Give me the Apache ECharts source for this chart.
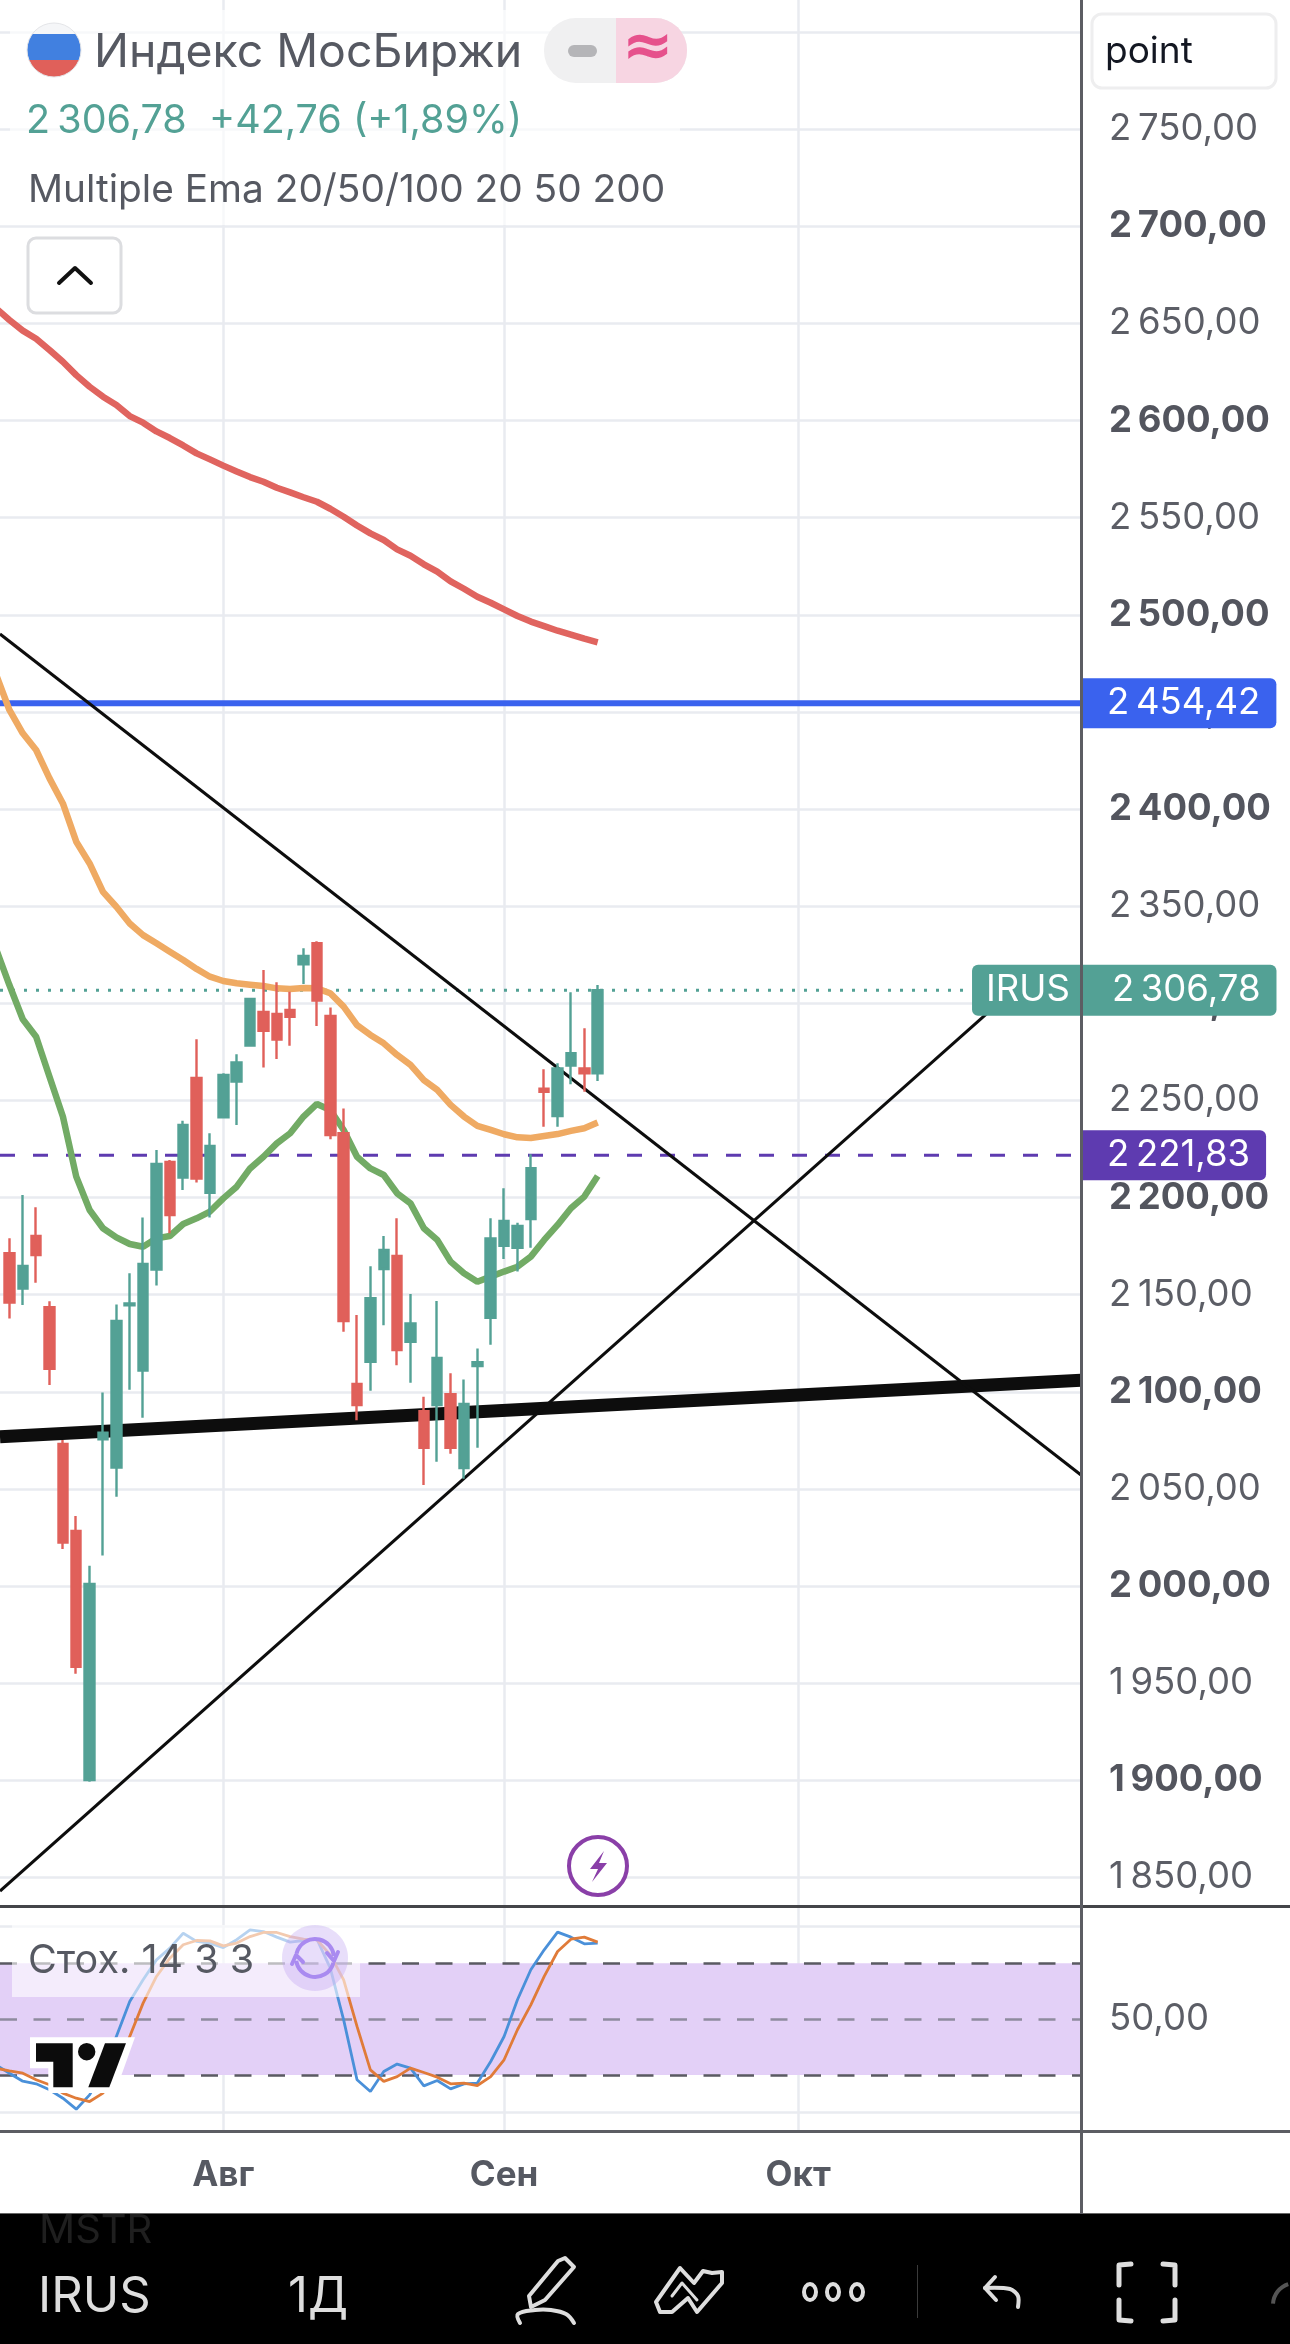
<!DOCTYPE html>
<html lang="ru">
<head>
<meta charset="utf-8">
<style>html,body{margin:0;padding:0;background:#fff}#c{width:1290px;height:2344px}</style>
<script src="https://cdn.jsdelivr.net/npm/echarts@6/dist/echarts.min.js"></script>
</head>
<body>
<div id="c"></div>
<script>
// ---- data ----
const candleOpen  = [2171.3,2153.1,2180.2,2143.5,2073.2,2028.4,1900.2,2075.6,2061.0,2144.5,2110.9,2162.9,2218.3,2210.3,2261.6,2202.5,2241.3,2259.7,2278.2,2295.5,2294.5,2296.6,2320.1,2330.9,2293.5,2233.1,2104.0,2115.5,2163.2,2169.9,2125.8,2090.0,2093.2,2098.8,2060.7,2113.2,2138.1,2175.2,2174.2,2189.0,2256.0,2242.0,2268.0,2266.5,2264.02];
const candleClose = [2145.9,2164.8,2170.4,2111.8,2022.4,1958.4,2001.1,2079.0,2136.5,2145.5,2165.8,2217.3,2191.0,2237.4,2209.8,2226.6,2263.1,2269.6,2302.2,2285.9,2281.3,2293.0,2324.4,2301.4,2232.2,2136.4,2093.2,2148.2,2173.0,2121.5,2135.2,2071.2,2117.4,2071.2,2093.7,2115.3,2179.0,2188.0,2185.4,2215.1,2254.5,2266.5,2274.3,2264.0,2306.78];
const candleLow   = [2137.8,2144.7,2156.2,2103.5,2019.1,1954.9,1899.3,2015.7,2046.0,2101.0,2086.7,2154.7,2181.6,2203.9,2207.7,2189.7,2240.8,2237.4,2278.0,2266.9,2271.3,2278.2,2310.0,2288.3,2230.0,2130.9,2085.4,2100.5,2134.3,2113.7,2104.7,2052.0,2064.0,2068.1,2055.2,2071.2,2124.2,2168.4,2161.9,2174.2,2236.5,2236.5,2258.3,2254.5,2260.0];
const candleHigh  = [2179.0,2201.3,2195.0,2146.6,2075.2,2036.1,2010.4,2099.6,2145.0,2161.0,2189.8,2224.5,2219.4,2239.6,2281.5,2233.1,2264.0,2273.8,2302.7,2317.2,2310.8,2306.0,2328.3,2331.9,2297.9,2245.9,2139.5,2164.7,2180.2,2189.3,2150.3,2097.4,2146.7,2109.5,2106.4,2122.3,2189.3,2204.8,2187.0,2222.3,2266.0,2269.1,2305.7,2287.1,2309.4];
// moving averages: first value belongs to the bar just left of the window
const ema20  = [2328,2309.4,2291.8,2282.8,2262.2,2241.7,2210.8,2193.6,2184.2,2179.5,2176.1,2174.7,2179,2180.2,2186.4,2189.3,2192.8,2199.6,2205.6,2215,2221,2227.9,2233.1,2241.7,2248.2,2245.1,2234.8,2221,2215,2211.6,2202.2,2197,2184.2,2178.2,2167,2161,2156.7,2159.3,2161.9,2164.4,2169.6,2178.2,2185.9,2194.5,2200.5,2211.1];
const ema50  = [2469.3,2451,2439,2430.4,2415.8,2402.9,2383.2,2372,2357.4,2349.7,2341.1,2335.1,2330.9,2326.6,2322.3,2317.7,2313.7,2311.5,2310.3,2309.6,2308.9,2307.7,2307.4,2307.9,2307.7,2305.2,2298.3,2288.8,2283.7,2279.4,2273.4,2268.3,2260.5,2255.4,2247.7,2241.7,2236.9,2234.8,2232.6,2231,2230.7,2231.7,2232.7,2234.3,2235.7,2238.6];
const ema200 = [2657.8,2651.8,2646.3,2642.1,2636.3,2630.3,2623.4,2617.4,2612.3,2608,2602.3,2598.9,2594.4,2591,2587.2,2583.1,2580,2576.8,2573.8,2570.9,2568.5,2565.4,2563,2560.5,2558.2,2554.6,2550.5,2546,2541.9,2538.5,2533.7,2530.4,2526,2522.2,2517.2,2513.4,2509.3,2506.2,2502.8,2499.4,2496.5,2494.2,2491.8,2489.8,2487.7,2485.8];
const stochK = [25.5,21,16.7,15.3,12.1,7.6,1.7,9.4,21.9,40.7,59.5,71.1,81.8,88.1,96.1,91.7,90.8,88.4,92.6,97.9,97,94,91.3,92.2,92.9,77.4,49.6,17.5,11.2,21.9,25.9,23.7,14.2,17.1,12.6,15.3,15.7,27.3,40.7,60.4,76.5,87.2,96.7,94,90.4,90.8];
const stochD = [23.7,22.3,21,17.5,14.8,10.3,7.6,5.8,10.3,22.8,40.7,58.6,72.9,82.7,89.9,92.2,92,89.3,90.8,94.3,96.5,96.5,94.3,92.9,92.6,84.5,71.1,46.1,22.8,16.6,19.2,23.7,21.4,18.9,15.3,15.7,14.4,19.2,28.2,44.3,57.7,72.9,86.3,92.9,94,91.3];
// drawn trend lines, [bar index, price]
const trendDown  = [[-0.703,2490.1],[80.15,2057.2]];
const trendUp    = [[-0.703,1843],[74.09,2300.7]];
const trendFlat  = [[-0.703,2076.9],[80.15,2106]];
const levelBlue   = 2454.42;
const levelPurple = 2221.83;
const lastPrice   = 2306.78;
const yTicks = [1850,1900,1950,2000,2050,2100,2150,2200,2250,2300,2350,2400,2450,2500,2550,2600,2650,2700,2750,2800];
const monthTicks  = [16,37,59];
const monthLabels = ['Авг','Сен','Окт'];

// ---- helpers ----
const TH = '\u2009';
const fmt = v => { const s = v.toFixed(2).replace('.',','); return s.length>6 ? s[0]+TH+s.slice(1) : s; };
const F = 'Inter, "Noto Sans", sans-serif';
const TEAL='#53a195', RED='#e0605a', GRID='#e9ebf0', TXT='#565962', PURPLE='#5e3bb0', BLUE='#3a62ee';
const XMIN=-0.703, XMAX=80.15, AX=36.5;
const idx = a => a.map((v,i)=>[i-1,v]);
const candles = candleOpen.map((o,i)=>[i,o,candleClose[i],candleLow[i],candleHigh[i]]);
const lineSeries = (name,data,color,width,z,extra) => Object.assign({
  name,type:'line',data,xAxisIndex:0,yAxisIndex:0,showSymbol:false,symbol:'none',z,
  lineStyle:{color,width,cap:'butt'},silent:true
},extra||{});
const badge = (bg) => ({show:true,distance:0,backgroundColor:bg,borderRadius:[0,6,6,0],color:'#fff',fontFamily:F,fontSize:AX,
  lineHeight:50,padding:[0,16,0,26],formatter:p=>fmt(p.value[1])});

// ---- chrome ----
const g = [];
const txt=(x,y,text,fill,font,al,z)=>g.push({type:'text',z:z||100,style:{x,y,text,fill,font,textAlign:al||'left',textVerticalAlign:'middle'}});
const rect=(x,y,w,h,fill,r,stroke,lw,z)=>g.push({type:'rect',z:z||90,shape:{x,y,width:w,height:h,r:r||0},style:{fill,stroke:stroke||null,lineWidth:lw||0}});
const pl=(pts,stroke,lw,z,smooth)=>g.push({type:'polyline',z:z||100,shape:{points:pts,smooth:smooth||0},style:{stroke,lineWidth:lw,fill:null,lineCap:'round',lineJoin:'round'}});
const pg=(pts,fill,z)=>g.push({type:'polygon',z:z||100,shape:{points:pts},style:{fill}});

// axis frame
rect(1080,0,3,2214,'#5c5d63',0,null,0,110);
rect(0,1905,1290,3,'#444549',0,null,0,95);
rect(0,2130,1290,3,'#5c5d63',0,null,0,95);
rect(0,2213,1290,2,'#666',0,null,0,95);
// header
rect(10,10,670,215,'rgba(255,255,255,0.65)',0,null,0,80);
g.push({type:'circle',z:100,shape:{cx:54,cy:50,r:27},style:{fill:{type:'linear',x:0,y:0,x2:0,y2:1,colorStops:[
 {offset:0,color:'#f5f6f8'},{offset:.21,color:'#f5f6f8'},{offset:.21,color:'#4180e0'},{offset:.68,color:'#4180e0'},{offset:.68,color:'#e0605a'},{offset:1,color:'#e0605a'}]},stroke:'#e4e5e8',lineWidth:1}});
txt(94,53,'Индекс МосБиржи','#565962','400 46.4px '+F);
txt(26,121,'2'+TH+'306,78  +42,76 (+1,89%)',TEAL,'400 39.5px '+F);
txt(28,190,'Multiple Ema 20/50/100 20 50 200','#565962','400 38.8px '+F);
rect(544,18,143,65,'#f0f0f1',32);
g.push({type:'rect',z:91,shape:{x:616,y:18,width:71,height:65,r:[0,32,32,0]},style:{fill:'#f7d5e2'}});
rect(568,45,29,12,'#b5b5b8',6,null,0,92);
txt(648,50,'≈','#e6518c','700 62px "DejaVu Sans"','center');
rect(28,238,93,75,'#fff',8,'#dcdde0',3);
pl([[59,283],[75,268],[91,283]],'#111',4);
// price-scale mode box
rect(1092,14,184,74,'#fff',10,'#eeeeef',3);
txt(1105,52,'point','#131722','400 37px '+F);
// event marker
g.push({type:'circle',z:100,shape:{cx:598,cy:1866,r:29},style:{fill:'#fff',stroke:'#8a3fa8',lineWidth:4}});
pg([[604,1851],[590,1869],[598,1869],[592,1882],[607,1863],[599,1863]],'#8a3fa8');
// stochastic legend
rect(12,1925,348,72,'rgba(255,255,255,0.6)',0,null,0,85);
txt(28,1961,'Стох. 14 3 3','#565962','400 39.5px '+F);
g.push({type:'ellipse',z:86,shape:{cx:315,cy:1958,rx:33,ry:33},style:{fill:'rgba(190,160,240,0.35)'}});
g.push({type:'arc',z:100,shape:{cx:315,cy:1958,r:19,startAngle:-2.9,endAngle:-0.1},style:{stroke:'#a98af0',lineWidth:4,fill:null}});
g.push({type:'arc',z:100,shape:{cx:315,cy:1958,r:19,startAngle:0.25,endAngle:3.0},style:{stroke:'#a98af0',lineWidth:4,fill:null}});
pl([[327,1953],[334,1961],[338,1952]],'#a98af0',4);
pl([[292,1964],[296,1955],[303,1962]],'#a98af0',4);
// logo
pg([[30,2037.3],[135,2037.3],[115,2093],[48.3,2093],[48.3,2068.3],[30,2068.3]],'#fff',95);
pg([[36,2043.3],[72.7,2043.3],[72.7,2087.3],[53.3,2087.3],[53.3,2061.7],[36,2061.7]],'#0c0c0c',100);
g.push({type:'circle',z:100,shape:{cx:86.7,cy:2051.7,r:8.7},style:{fill:'#0c0c0c'}});
pg([[105,2043.3],[126,2043.3],[109.3,2087.3],[88.3,2087.3]],'#0c0c0c',100);
// toolbar
rect(0,2214,1290,130,'#000',0,null,0,120);
const Z=130, IC='#dedede';
txt(39,2231,'MSTR','#1f1f1f','400 40px '+F,'left',Z);
txt(38,2297,'IRUS',IC,'400 49px '+F,'left',Z);
txt(288,2297,'1Д',IC,'400 49px '+F,'left',Z);
pl([[558,2261],[565,2258],[574,2267],[545,2300],[531,2307],[529,2296],[558,2261]],IC,4,Z);
pl([[520,2323],[518,2314],[535,2310],[551,2310],[566,2314],[574,2323]],IC,4,Z,0.4);
pl([[656,2302],[680,2268],[694,2283],[703,2271],[712,2273],[722,2272],[722,2283],[697,2312],[688,2298],[672,2312],[660,2312],[656,2302]],IC,4,Z);
pl([[672,2296],[682,2283],[697,2300]],IC,3,Z);
[810,833,857].forEach(x=>g.push({type:'ellipse',z:Z,shape:{cx:x,cy:2292,rx:6,ry:8},style:{stroke:IC,lineWidth:4,fill:null}}));
rect(917,2265,1,53,'#3a3a3a',0,null,0,Z);
pl([[1018,2307],[1018,2296],[1010,2289],[985,2288]],IC,4,Z,0.3);
pl([[995,2277],[985,2288],[996,2300]],IC,4,Z);
pl([[1119,2285],[1119,2265],[1131,2264]],IC,5,Z);
pl([[1163,2264],[1175,2265],[1175,2285]],IC,5,Z);
pl([[1119,2300],[1119,2320],[1131,2321]],IC,5,Z);
pl([[1163,2321],[1175,2320],[1175,2300]],IC,5,Z);
g.push({type:'arc',z:Z,shape:{cx:1295,cy:2305,r:22,startAngle:3.2,endAngle:4.4},style:{stroke:'#555',lineWidth:4,fill:null}});

// ---- chart ----
const chart = echarts.init(document.getElementById('c'),null,{renderer:'canvas',width:1290,height:2344});
chart.setOption({
  animation:false,
  backgroundColor:'#ffffff',
  grid:[
    {left:0,right:209,top:0,height:1906,containLabel:false},
    {left:0,right:209,top:1906,height:225,containLabel:false}
  ],
  xAxis:[
    {type:'value',gridIndex:0,min:XMIN,max:XMAX,
     axisLine:{show:false},axisLabel:{show:false},
     axisTick:{show:false,customValues:monthTicks},
     splitLine:{show:true,lineStyle:{color:GRID,width:2.5}}},
    {type:'value',gridIndex:1,min:XMIN,max:XMAX,
     axisLine:{show:false},
     axisTick:{show:false,customValues:monthTicks},
     axisLabel:{show:true,customValues:monthTicks,margin:27,color:TXT,fontFamily:F,fontSize:35,fontWeight:700,
       formatter:v=>monthLabels[monthTicks.indexOf(v)]},
     splitLine:{show:true,lineStyle:{color:GRID,width:2.5}}}
  ],
  yAxis:[
    {type:'value',gridIndex:0,position:'right',min:1835.3,max:2816.5,
     axisLine:{show:false},
     axisTick:{show:false,customValues:yTicks},
     splitLine:{show:true,lineStyle:{color:GRID,width:2.5}},
     axisLabel:{show:true,customValues:yTicks,margin:28,align:'left',
       formatter:v=>(v%100===0?'{b|':'{r|')+fmt(v)+'}',
       rich:{b:{fontFamily:F,fontSize:AX,fontWeight:700,color:'#53555e'},r:{fontFamily:F,fontSize:AX,fontWeight:400,color:'#5c5e66'}}}},
    {type:'value',gridIndex:1,position:'right',min:-10,max:110.7,
     axisLine:{show:false},
     axisTick:{show:false,customValues:[0,100]},
     splitLine:{show:true,lineStyle:{color:GRID,width:2.5}},
     axisLabel:{show:true,customValues:[50],margin:28,align:'left',color:'#5c5e66',fontFamily:F,fontSize:AX,formatter:v=>fmt(v)}}
  ],
  series:[
    lineSeries('level',[[XMIN,levelBlue],[XMAX,levelBlue]],BLUE,6,2,{endLabel:badge(BLUE)}),
    lineSeries('alert',[[XMIN,levelPurple],[XMAX,levelPurple]],PURPLE,3,3,{lineStyle:{color:PURPLE,width:3,type:[15,18]},endLabel:badge(PURPLE)}),
    lineSeries('last',[[XMIN,lastPrice],[72,lastPrice]],TEAL,3,4,{lineStyle:{color:TEAL,width:3,type:[3,9]},
      endLabel:{show:true,distance:0,backgroundColor:TEAL,borderRadius:6,lineHeight:51,
        formatter:p=>'{a|IRUS}{b|'+fmt(p.value[1])+'}',
        rich:{a:{color:'#fff',fontFamily:F,fontSize:AX,padding:[0,42,0,14],lineHeight:51},
              b:{color:'#fff',fontFamily:F,fontSize:AX,padding:[0,16,0,0],lineHeight:51}}}}),
    lineSeries('trendFlat',trendFlat,'#0d0d0d',13,3),
    lineSeries('trendDown',trendDown,'#0d0d0d',3,4),
    lineSeries('trendUp',trendUp,'#0d0d0d',3,4),
    lineSeries('EMA 200',idx(ema200),'#e0645f',6.5,5),
    lineSeries('EMA 50',idx(ema50),'#efaa63',6.5,5),
    lineSeries('EMA 20',idx(ema20),'#72ab65',6.5,5),
    {name:'IRUS',type:'candlestick',xAxisIndex:0,yAxisIndex:0,data:candles,encode:{x:0,y:[1,2,3,4]},barWidth:10,z:8,silent:true,
     itemStyle:{color:TEAL,borderColor:TEAL,color0:RED,borderColor0:RED,borderWidth:2.4}},
    {name:'K',type:'line',xAxisIndex:1,yAxisIndex:1,data:idx(stochK),showSymbol:false,symbol:'none',silent:true,z:5,
     lineStyle:{color:'#4a90d9',width:2.8},
     markArea:{silent:true,z:1,itemStyle:{color:'#e3d0f7'},data:[[{yAxis:20},{yAxis:80}]]},
     markLine:{silent:true,symbol:'none',z:2,label:{show:false},
       data:[
        {yAxis:80,lineStyle:{color:'#5a5a62',width:2.6,type:[17,16.5]}},
        {yAxis:50,lineStyle:{color:'#8f8b9e',width:2.6,type:[17,16.5]}},
        {yAxis:20,lineStyle:{color:'#5a5a62',width:2.6,type:[17,16.5]}}
       ]}},
    {name:'D',type:'line',xAxisIndex:1,yAxisIndex:1,data:idx(stochD),showSymbol:false,symbol:'none',silent:true,z:6,
     lineStyle:{color:'#e07b39',width:2.8}}
  ],
  graphic:{elements:g}
});
</script>
</body>
</html>
